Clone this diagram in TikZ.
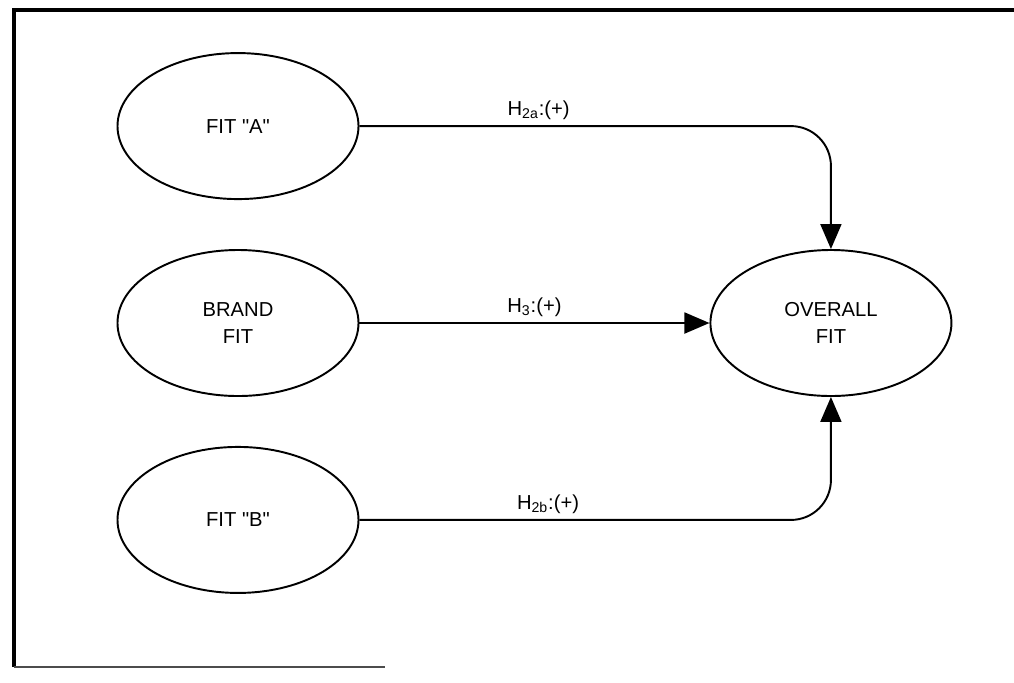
\documentclass[tikz,border=0pt]{standalone}
\usepackage{fontspec}
\setmainfont{Liberation Sans}
\usetikzlibrary{arrows.meta,positioning,shapes.geometric}

\begin{document}
\begin{tikzpicture}[
    node distance=0.98cm and 7.0cm,
    construct/.style={draw, ellipse, line width=1.1pt, minimum width=4.82cm,
      minimum height=2.92cm, align=center, inner sep=0pt,
      font=\fontsize{11.5}{15.3}\selectfont},
    hyp/.style={font=\fontsize{11.5}{13}\selectfont, inner sep=3pt},
    arrow/.style={-{Triangle[length=0.5cm, width=0.42cm]}, line width=1.1pt}
  ]
    \useasboundingbox (0,0) rectangle (20.28,-13.64);
    % frame of the scanned figure
    \draw[line width=2.3pt] (0.28,-13.34) -- (0.28,-0.2) -- (20.28,-0.2);
    \draw[line width=0.8pt, black!70] (0.28,-13.34) -- (7.7,-13.34);

    \node[construct] (brand) at (4.76,-6.46) {BRAND\\FIT};
    \node[construct, above=of brand] (fitA) {FIT \textquotedbl A\textquotedbl};
    \node[construct, below=of brand] (fitB) {FIT \textquotedbl B\textquotedbl};
    \node[construct, right=of brand] (overall) {OVERALL\\FIT};

    \draw[arrow, rounded corners=0.8cm] (fitA.east) -| node[hyp, above, pos=0.19] {H\textsubscript{2a}:(+)} (overall.north);
    \draw[arrow] (brand) -- node[hyp, above] {H\textsubscript{3}:(+)} (overall);
    \draw[arrow, rounded corners=0.8cm] (fitB.east) -| node[hyp, above, pos=0.2] {H\textsubscript{2b}:(+)} (overall.south);
  \end{tikzpicture}
\end{document}
